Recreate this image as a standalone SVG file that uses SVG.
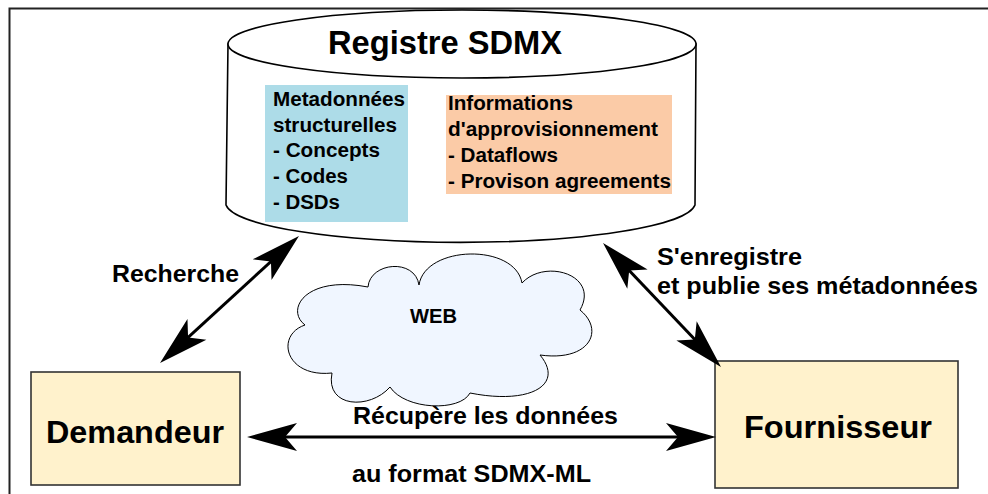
<svg xmlns="http://www.w3.org/2000/svg" width="988" height="494" viewBox="0 0 988 494">
<style>
text{font-family:"Liberation Sans",Arial,sans-serif;font-weight:bold;fill:#000}
.box{fill:#FFF2CC;stroke:#333;stroke-width:1.6}
.conn{fill:none;stroke:#000;stroke-width:3}
</style>
<defs>
<marker id="ah" markerUnits="userSpaceOnUse" markerWidth="52" markerHeight="30" refX="40" refY="15" orient="auto-start-reverse" overflow="visible">
<path d="M50,15 L0,1 L12,15 L0,29 Z" fill="#000"/>
</marker>
</defs>
<rect x="0" y="0" width="988" height="494" fill="#fff"/>
<rect id="frame" x="9.5" y="8.5" width="990" height="500" fill="none" stroke="#222" stroke-width="2"/>

<g id="registre">
<path d="M228,44 L226,205 A235,40 0 0 0 695,205 L696,44 Z" fill="#fff" stroke="#000" stroke-width="1.6"/>
<ellipse cx="462" cy="44" rx="234" ry="34" fill="#fff" stroke="#000" stroke-width="1.6"/>
<text x="328" y="54" font-size="33" textLength="234" lengthAdjust="spacingAndGlyphs">Registre SDMX</text>
</g>

<g id="metadonnees">
<rect x="265" y="85" width="143" height="137" fill="#ADDCE8"/>
<text x="273" y="106" font-size="20" textLength="132" lengthAdjust="spacingAndGlyphs">Metadonnées</text>
<text x="273" y="131.5" font-size="20" textLength="124" lengthAdjust="spacingAndGlyphs">structurelles</text>
<text x="273" y="157" font-size="20" textLength="107" lengthAdjust="spacingAndGlyphs">- Concepts</text>
<text x="273" y="183" font-size="20" textLength="75" lengthAdjust="spacingAndGlyphs">- Codes</text>
<text x="273" y="209" font-size="20" textLength="67" lengthAdjust="spacingAndGlyphs">- DSDs</text>
</g>

<g id="approvisionnement">
<rect x="446" y="95" width="226" height="99" fill="#FBCBA7"/>
<text x="448" y="110" font-size="20" textLength="125" lengthAdjust="spacingAndGlyphs">Informations</text>
<text x="448" y="136" font-size="20" textLength="210" lengthAdjust="spacingAndGlyphs">d'approvisionnement</text>
<text x="448" y="162" font-size="20" textLength="110" lengthAdjust="spacingAndGlyphs">- Dataflows</text>
<text x="448" y="188" font-size="20" textLength="223" lengthAdjust="spacingAndGlyphs">- Provison agreements</text>
</g>

<g id="web">
<path d="M305,325 C285,310 305,275 368,287 C370,262 415,258 419,285 C425,245 515,243 522,283 C545,258 600,275 580,310 C605,330 590,362 540,355 C565,385 530,405 470,393 C460,412 405,410 390,387 C370,410 325,408 332,373 C285,378 275,335 305,325 Z" fill="#F0F6FF" stroke="#000" stroke-width="1"/>
<text x="410" y="323" font-size="19.5" textLength="47" lengthAdjust="spacingAndGlyphs">WEB</text>
</g>

<g id="demandeur">
<rect class="box" x="31" y="372" width="209" height="113"/>
<text x="46" y="443" font-size="30.5" textLength="178" lengthAdjust="spacingAndGlyphs">Demandeur</text>
</g>

<g id="fournisseur">
<rect class="box" x="715" y="361" width="243" height="127"/>
<text x="744" y="438" font-size="30.5" textLength="188" lengthAdjust="spacingAndGlyphs">Fournisseur</text>
</g>

<g id="connectors">
<line class="conn" x1="167.4" y1="356.3" x2="291.6" y2="242.7" marker-start="url(#ah)" marker-end="url(#ah)"/>
<line class="conn" x1="609.9" y1="250.2" x2="714.1" y2="359.8" marker-start="url(#ah)" marker-end="url(#ah)"/>
<line class="conn" x1="257" y1="437" x2="706" y2="437" marker-start="url(#ah)" marker-end="url(#ah)"/>
<text x="112" y="282" font-size="24" textLength="127" lengthAdjust="spacingAndGlyphs">Recherche</text>
<text x="657" y="265" font-size="24" textLength="145" lengthAdjust="spacingAndGlyphs">S'enregistre</text>
<text x="657" y="294" font-size="24" textLength="321" lengthAdjust="spacingAndGlyphs">et publie ses métadonnées</text>
<text x="353" y="424" font-size="24" textLength="265" lengthAdjust="spacingAndGlyphs">Récupère les données</text>
<text x="352" y="482" font-size="24" textLength="239" lengthAdjust="spacingAndGlyphs">au format SDMX-ML</text>
</g>
</svg>
